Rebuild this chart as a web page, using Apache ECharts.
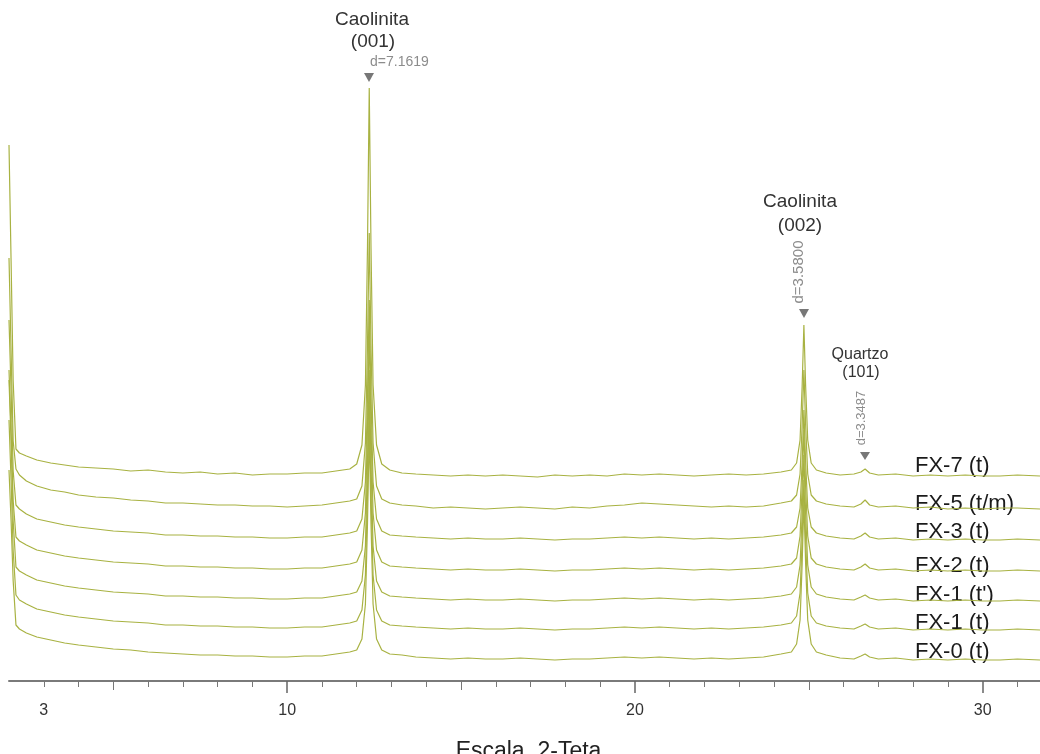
<!DOCTYPE html>
<html>
<head>
<meta charset="utf-8">
<style>
  html, body { margin: 0; padding: 0; background: #fff; }
  #chart { width: 1040px; height: 754px; }
</style>
<script src="https://cdn.jsdelivr.net/npm/echarts@6/dist/echarts.min.js"></script>
</head>
<body>
<div id="chart"></div>
<script>
// 2-theta positions shared by every trace
const theta = [2.0, 2.06, 2.12, 2.2, 2.3, 2.5, 2.8, 3.2, 3.6, 4.0, 4.5, 5.0, 5.5, 6.0, 6.5, 7.0, 7.5, 8.0, 8.5, 9.0, 9.5, 10.0, 10.5, 11.0,
  11.4, 11.8, 12.0, 12.15, 12.25, 12.31, 12.36, 12.41, 12.47, 12.57, 12.72, 12.95, 13.3,
  13.7, 14.2, 14.7, 15.2, 15.7, 16.2, 16.7, 17.2, 17.7, 18.2, 18.7, 19.2, 19.7, 20.2, 20.7, 21.2, 21.7, 22.2, 22.7, 23.2, 23.7,
  24.2, 24.5, 24.65, 24.75, 24.81, 24.86, 24.91, 24.97, 25.07, 25.22, 25.5,
  25.9, 26.3, 26.5, 26.62, 26.75, 27.0, 27.5, 28.0, 28.5, 29.0, 29.5, 30.0, 30.5, 31.0, 31.65]

// stacked intensities (already offset)
const fx7 = [536, 420, 300, 232, 228, 225, 221, 218, 216, 214, 213, 212, 210, 211, 209, 208, 209, 207, 208, 206, 207, 207, 208, 208,
  210, 212, 217, 236, 296, 435, 593, 435, 296, 236, 217, 211, 208,
  207, 206, 205, 206, 205, 206, 205, 204, 206, 205, 206, 205, 207, 206, 207, 206, 205, 206, 207, 206, 207,
  209, 211, 218, 241, 295, 356, 295, 241, 218, 211, 208,
  206, 207, 209, 212, 208, 206, 207, 205, 206, 205, 206, 205, 205, 206, 205]
const fx5 = [423, 330, 240, 212, 206, 200, 195, 191, 189, 186, 184, 183, 181, 180, 178, 178, 177, 176, 176, 175, 175, 174, 175, 176,
  178, 180, 182, 195, 238, 336, 448, 336, 238, 195, 182, 178, 176,
  175, 173, 174, 173, 172, 173, 174, 173, 172, 174, 173, 175, 176, 178, 177, 176, 175, 174, 175, 174, 175,
  178, 180, 186, 207, 256, 311, 256, 207, 186, 180, 177,
  175, 174, 177, 181, 176, 174, 175, 173, 174, 172, 173, 172, 173, 173, 172]
const fx3 = [361, 290, 210, 176, 172, 167, 162, 159, 156, 154, 152, 150, 149, 148, 146, 146, 145, 145, 144, 144, 143, 143, 144, 144,
  146, 148, 150, 162, 199, 284, 381, 284, 199, 162, 150, 146, 145,
  144, 143, 142, 143, 142, 142, 143, 142, 141, 142, 142, 143, 144, 143, 144, 143, 142, 143, 142, 143, 144,
  146, 148, 154, 173, 219, 271, 219, 173, 154, 148, 145,
  143, 142, 145, 148, 144, 142, 143, 141, 142, 141, 142, 141, 141, 142, 141]
const fx2 = [311, 250, 180, 144, 140, 136, 131, 128, 125, 123, 121, 119, 118, 117, 115, 115, 114, 114, 113, 113, 112, 112, 113, 113,
  115, 117, 119, 131, 168, 253, 351, 253, 168, 131, 119, 115, 114,
  113, 112, 111, 112, 111, 111, 112, 111, 110, 111, 111, 112, 113, 112, 113, 112, 111, 112, 111, 112, 113,
  115, 117, 123, 145, 194, 251, 194, 145, 123, 117, 114,
  112, 111, 114, 117, 113, 111, 112, 110, 111, 110, 111, 110, 110, 111, 110]
const fx1b = [301, 240, 160, 114, 110, 106, 101, 98, 95, 93, 91, 89, 88, 87, 85, 85, 84, 84, 83, 83, 82, 82, 83, 83,
  85, 87, 89, 100, 135, 218, 311, 218, 135, 100, 89, 85, 84,
  83, 82, 81, 82, 81, 81, 82, 81, 80, 81, 81, 82, 83, 82, 83, 82, 81, 82, 81, 82, 83,
  85, 87, 94, 116, 167, 226, 167, 116, 94, 87, 84,
  82, 81, 84, 86, 83, 81, 82, 80, 81, 80, 81, 80, 80, 81, 80]
const fx1 = [261, 200, 130, 86, 81, 77, 72, 69, 66, 64, 62, 60, 59, 58, 56, 56, 55, 55, 54, 54, 53, 53, 54, 54,
  56, 58, 60, 71, 106, 188, 281, 188, 106, 71, 60, 56, 55,
  54, 53, 52, 53, 52, 52, 53, 52, 51, 52, 52, 53, 54, 53, 54, 53, 52, 53, 52, 53, 54,
  56, 58, 65, 88, 141, 201, 141, 88, 65, 58, 55,
  53, 52, 55, 57, 54, 52, 53, 51, 52, 51, 52, 51, 51, 52, 51]
const fx0 = [211, 160, 100, 56, 52, 48, 44, 41, 38, 36, 34, 32, 31, 29, 28, 27, 26, 26, 25, 25, 24, 24, 25, 25,
  27, 29, 31, 42, 77, 158, 251, 158, 77, 42, 31, 27, 26,
  24, 23, 22, 23, 22, 22, 23, 22, 21, 22, 22, 23, 24, 23, 24, 23, 22, 23, 22, 23, 24,
  27, 29, 37, 61, 117, 181, 117, 61, 37, 29, 26,
  23, 22, 25, 27, 24, 22, 23, 21, 22, 21, 22, 21, 21, 22, 21]

const traceNames = ['FX-7 (t)', 'FX-5 (t/m)', 'FX-3 (t)', 'FX-2 (t)', "FX-1 (t')", 'FX-1 (t)', 'FX-0 (t)']
const traces = [fx7, fx5, fx3, fx2, fx1b, fx1, fx0]

const minorTicks = [3, 4, 6, 7, 8, 9, 11, 12, 13, 14, 16, 17, 18, 19, 21, 22, 23, 24, 26, 27, 28, 29, 31]
const midTicks = [5, 15, 25]
const majorTicks = [10, 20, 30]
const tickLabels = [3, 10, 20, 30]

const FONT = '"Liberation Sans", Arial, sans-serif'
const LINE = '#a8b242'
const GREY = '#8c8c8c'

const chart = echarts.init(document.getElementById('chart'))

function xAxisBase(extra) {
  return Object.assign({
    type: 'value',
    min: 2,
    max: 31.65,
    position: 'bottom',
    splitLine: { show: false },
    axisLine: { show: false },
    axisLabel: { show: false }
  }, extra)
}

const labelY = [467, 505, 533, 567, 596, 624, 653]

chart.setOption({
  animation: false,
  grid: { left: 9, right: 0, top: 0, bottom: 73, containLabel: false, outerBoundsMode: 'none' },
  xAxis: [
    xAxisBase({
      axisLine: { show: true, lineStyle: { color: '#7a7a7a', width: 2 } },
      axisTick: { length: 6, customValues: minorTicks, lineStyle: { color: '#777', width: 1 } },
      axisLabel: {
        show: true, customValues: tickLabels, margin: 22,
        color: '#333', fontSize: 16, fontFamily: FONT
      },
      name: 'Escala  2-Teta',
      nameLocation: 'middle',
      nameGap: 59,
      nameTextStyle: { color: '#222', fontSize: 23, fontFamily: FONT, padding: [0, 0, 0, 8] }
    }),
    xAxisBase({ axisTick: { length: 9, customValues: midTicks, lineStyle: { color: '#777', width: 1 } } }),
    xAxisBase({ axisTick: { length: 12, customValues: majorTicks, lineStyle: { color: '#666', width: 1.5 } } })
  ],
  yAxis: { type: 'value', min: 0, max: 681, show: false },
  series: traces.map((vals, i) => ({
    name: traceNames[i],
    type: 'line',
    xAxisIndex: 0,
    showSymbol: false,
    symbol: 'none',
    lineStyle: { color: LINE, width: 1.2 },
    data: theta.map((t, k) => [t, vals[k]])
  })),
  graphic: [
    ...traceNames.map((name, i) => ({
      type: 'text', left: 915, top: labelY[i] - 12,
      style: { text: name, fill: '#1a1a1a', font: '22px ' + FONT }
    })),
    { type: 'text', x: 372, y: 20, style: { text: 'Caolinita', fill: '#333', font: '19px ' + FONT, align: 'center', verticalAlign: 'middle' } },
    { type: 'text', x: 373, y: 42, style: { text: '(001)', fill: '#333', font: '19px ' + FONT, align: 'center', verticalAlign: 'middle' } },
    { type: 'text', x: 370, y: 62, style: { text: 'd=7.1619', fill: GREY, font: '14px ' + FONT, align: 'left', verticalAlign: 'middle' } },
    { type: 'polygon', shape: { points: [[364, 73], [374, 73], [369, 82]] }, style: { fill: '#777' } },

    { type: 'text', x: 800, y: 202, style: { text: 'Caolinita', fill: '#333', font: '19px ' + FONT, align: 'center', verticalAlign: 'middle' } },
    { type: 'text', x: 800, y: 226, style: { text: '(002)', fill: '#333', font: '19px ' + FONT, align: 'center', verticalAlign: 'middle' } },
    { type: 'text', x: 799, y: 272, rotation: Math.PI / 2, style: { text: 'd=3.5800', fill: GREY, font: '15px ' + FONT, align: 'center', verticalAlign: 'middle' } },
    { type: 'polygon', shape: { points: [[799, 309], [809, 309], [804, 318]] }, style: { fill: '#777' } },

    { type: 'text', x: 860, y: 355, style: { text: 'Quartzo', fill: '#333', font: '16px ' + FONT, align: 'center', verticalAlign: 'middle' } },
    { type: 'text', x: 861, y: 373, style: { text: '(101)', fill: '#333', font: '16px ' + FONT, align: 'center', verticalAlign: 'middle' } },
    { type: 'text', x: 861, y: 418, rotation: Math.PI / 2, style: { text: 'd=3.3487', fill: GREY, font: '13px ' + FONT, align: 'center', verticalAlign: 'middle' } },
    { type: 'polygon', shape: { points: [[860, 452], [870, 452], [865, 460]] }, style: { fill: '#777' } }
  ]
})
</script>
</body>
</html>
